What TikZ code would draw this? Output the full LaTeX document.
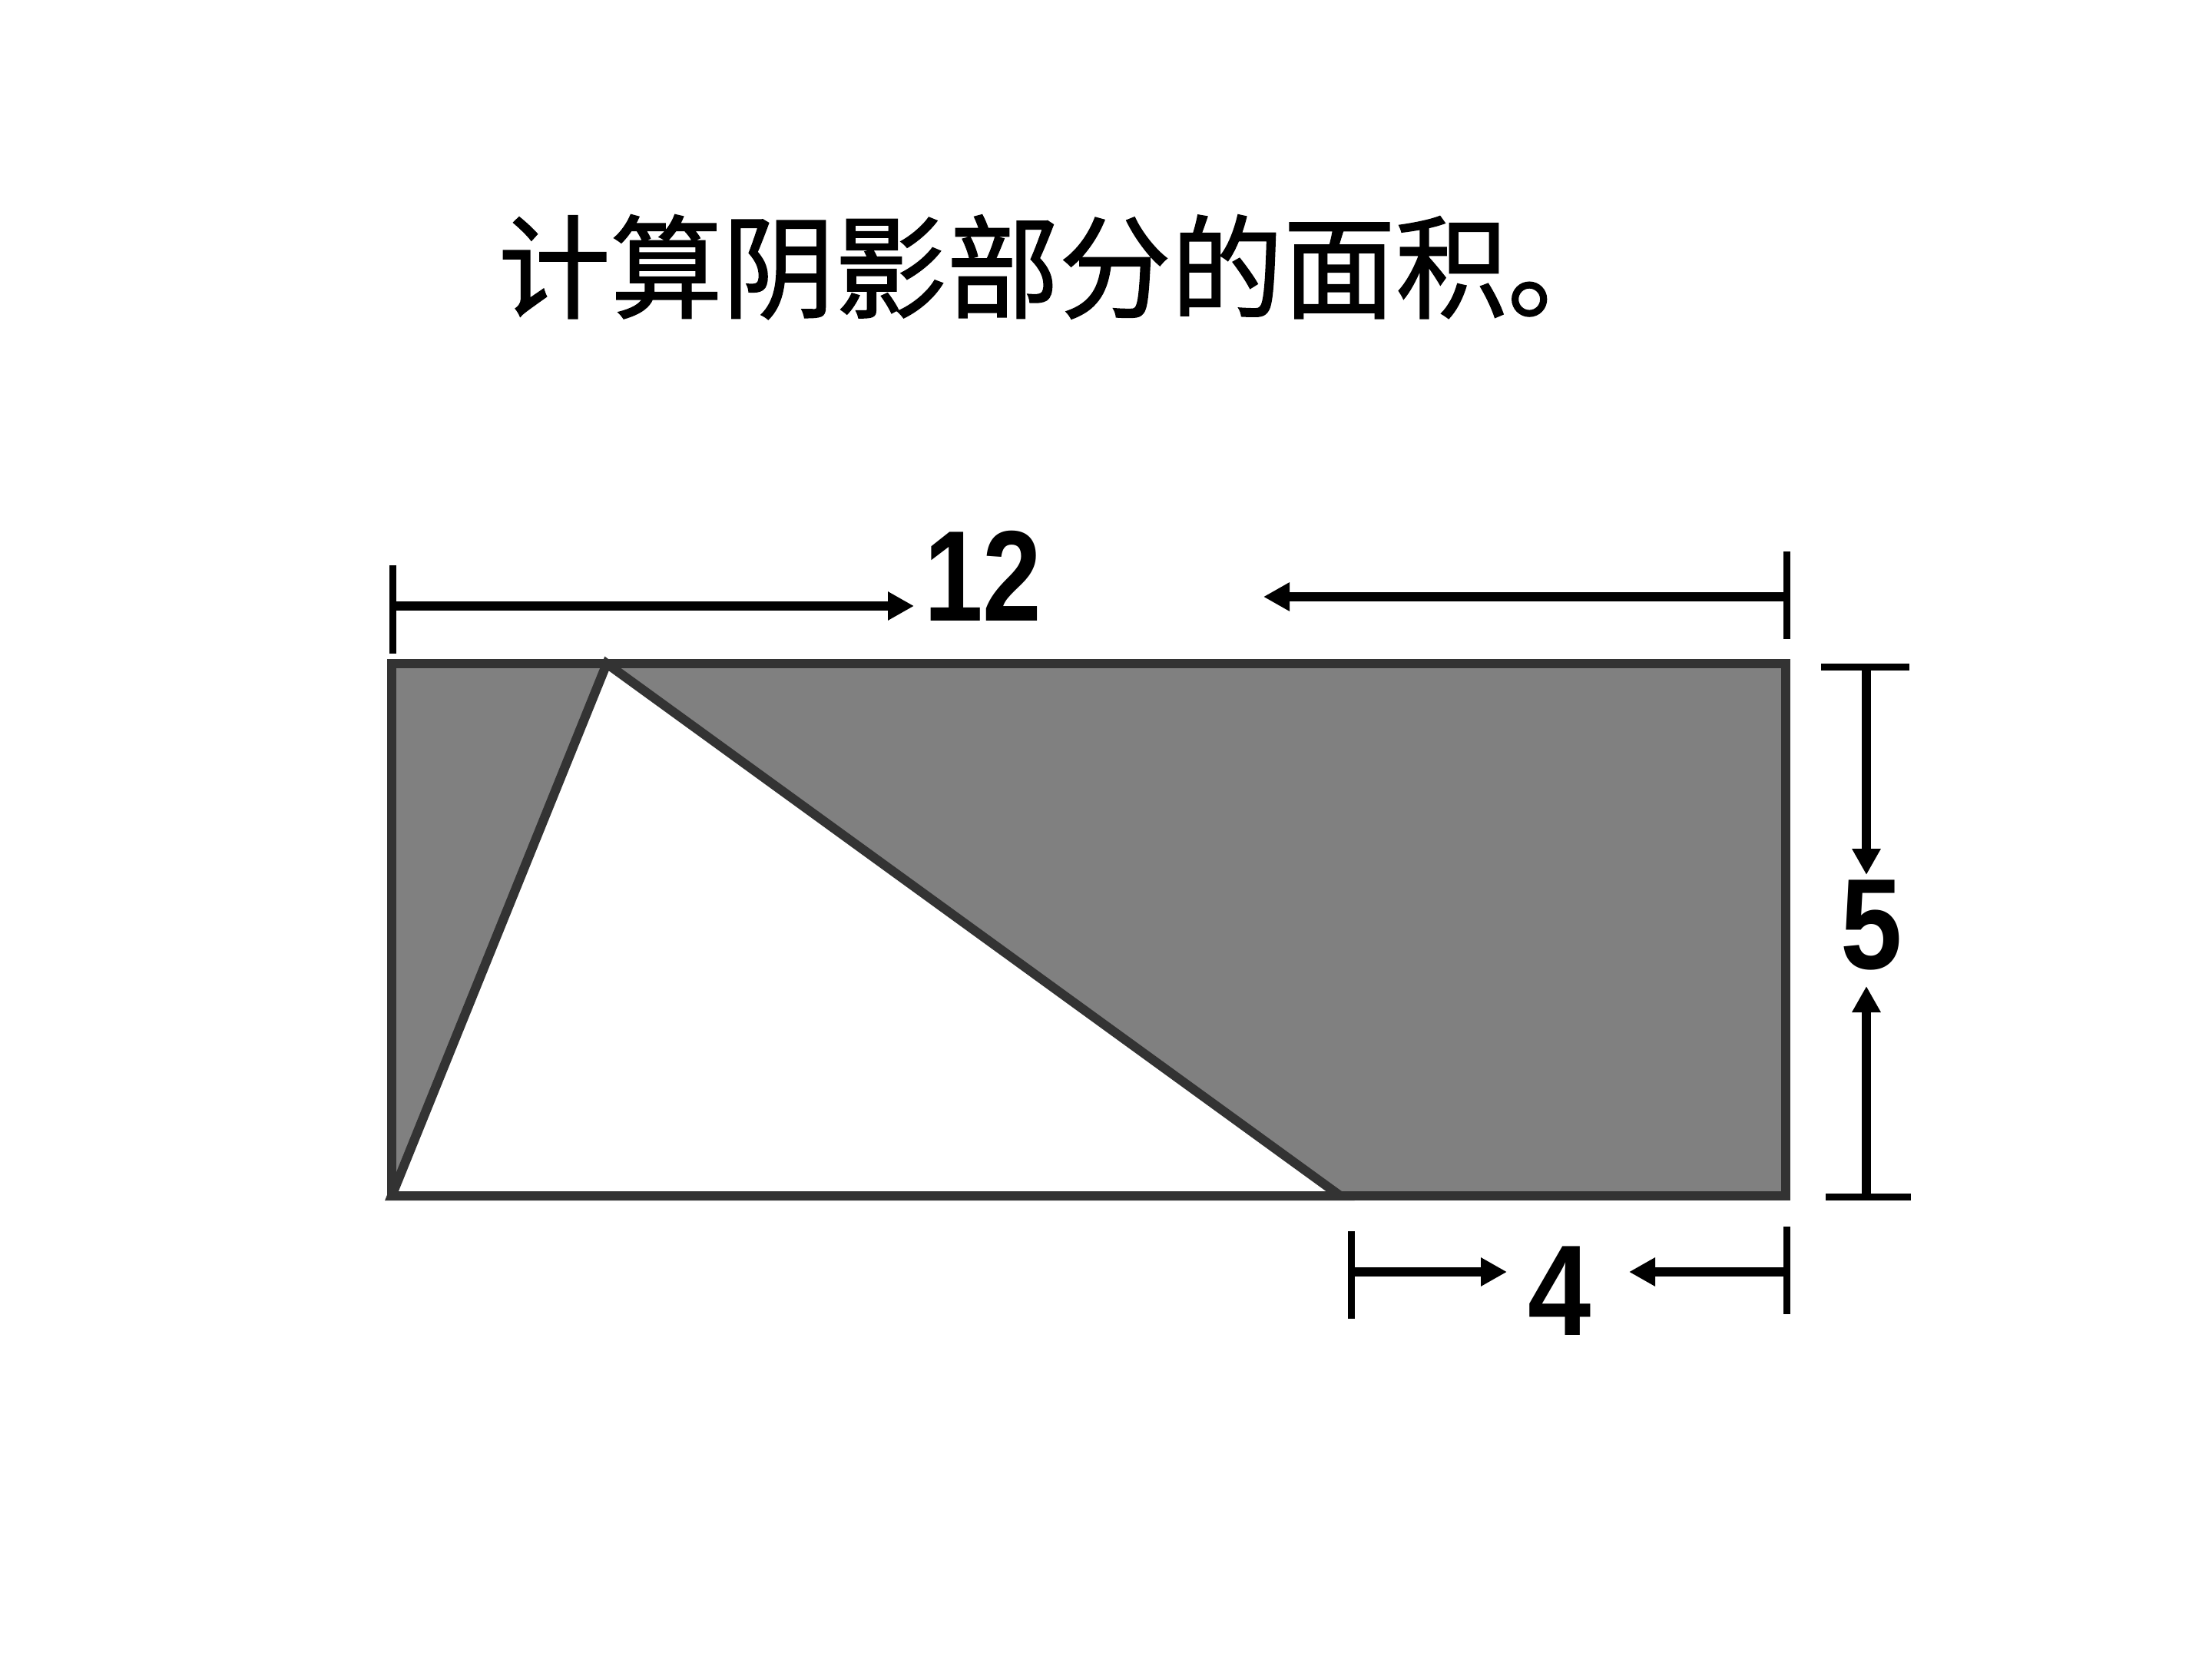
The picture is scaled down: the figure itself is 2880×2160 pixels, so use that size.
\documentclass[tikz,border=0pt]{standalone}
\usepackage{fontspec}
\setmainfont{Liberation Sans}
\newfontfamily\cjk[FakeBold=1.2]{Noto Sans CJK SC}
\usetikzlibrary{arrows.meta}
\definecolor{edgegray}{HTML}{333333}
\definecolor{shadegray}{HTML}{808080}
\tikzset{
  figedge/.style={draw=edgegray, line width=3pt, line join=miter},
  dimline/.style={draw=black, line width=3pt, -{Triangle[length=8.5pt,width=8.8pt]}},
  dimtick/.style={draw=black, line width=2.25pt},
  numlabel/.style={inner sep=0pt, font=\fontsize{42}{44}\selectfont\bfseries},
  titlelabel/.style={inner sep=0pt, font=\cjk\fontsize{36.5}{40}\selectfont}
}
\begin{document}
\begin{tikzpicture}[x=0.25pt, y=-0.25pt]
\useasboundingbox (0,0) rectangle (2880,2160);
% figure corners
\coordinate (TL) at (510,864);
\coordinate (TR) at (2325,864);
\coordinate (BR) at (2325,1557);
\coordinate (BL) at (510,1557);
\coordinate (apex) at (790,864);
\coordinate (foot) at (1745,1557);
% shading
\fill[shadegray] (TL) rectangle (BR);
\fill[white] (BL) -- (apex) -- (foot) -- cycle;
\draw[figedge] (TL) rectangle (BR);
\draw[figedge] (BL) -- (apex) -- (foot) -- cycle;
% title
\node[titlelabel, anchor=base west] (title) at (648,403) {计算阴影部分的面积。};
% top dimension (12)
\coordinate (t1a) at (511,736); \coordinate (t1b) at (511,851);
\coordinate (t1s) at (511,789); \coordinate (t1e) at (1190,789);
\coordinate (t2a) at (2326,718); \coordinate (t2b) at (2326,832);
\coordinate (t2s) at (2326,777); \coordinate (t2e) at (1645,777);
\draw[dimtick] (t1a) -- (t1b);
\draw[dimtick] (t2a) -- (t2b);
\draw[dimline] (t1s) -- (t1e);
\draw[dimline] (t2s) -- (t2e);
\node[numlabel] (n12) at (1280,750) {\scalebox{0.82}[1]{12}};
% right dimension (5)
\coordinate (r1a) at (2371,868.5); \coordinate (r1b) at (2486,868.5);
\coordinate (r1s) at (2430,868.5); \coordinate (r1e) at (2430,1139);
\coordinate (r2a) at (2377,1558.5); \coordinate (r2b) at (2488,1558.5);
\coordinate (r2s) at (2430,1558.5); \coordinate (r2e) at (2430,1284);
\draw[dimtick] (r1a) -- (r1b);
\draw[dimtick] (r2a) -- (r2b);
\draw[dimline] (r1s) -- (r1e);
\draw[dimline] (r2s) -- (r2e);
\node[numlabel] (n5) at (2437,1205) {\scalebox{0.86}[1]{5}};
% bottom dimension (4)
\coordinate (b1a) at (1759,1603); \coordinate (b1b) at (1759,1717);
\coordinate (b1s) at (1759,1656); \coordinate (b1e) at (1962,1656);
\coordinate (b2a) at (2326,1597); \coordinate (b2b) at (2326,1711);
\coordinate (b2s) at (2326,1656); \coordinate (b2e) at (2121,1656);
\draw[dimtick] (b1a) -- (b1b);
\draw[dimtick] (b2a) -- (b2b);
\draw[dimline] (b1s) -- (b1e);
\draw[dimline] (b2s) -- (b2e);
\node[numlabel] (n4) at (2031,1681) {\scalebox{0.88}[1]{4}};
\end{tikzpicture}
\end{document}
